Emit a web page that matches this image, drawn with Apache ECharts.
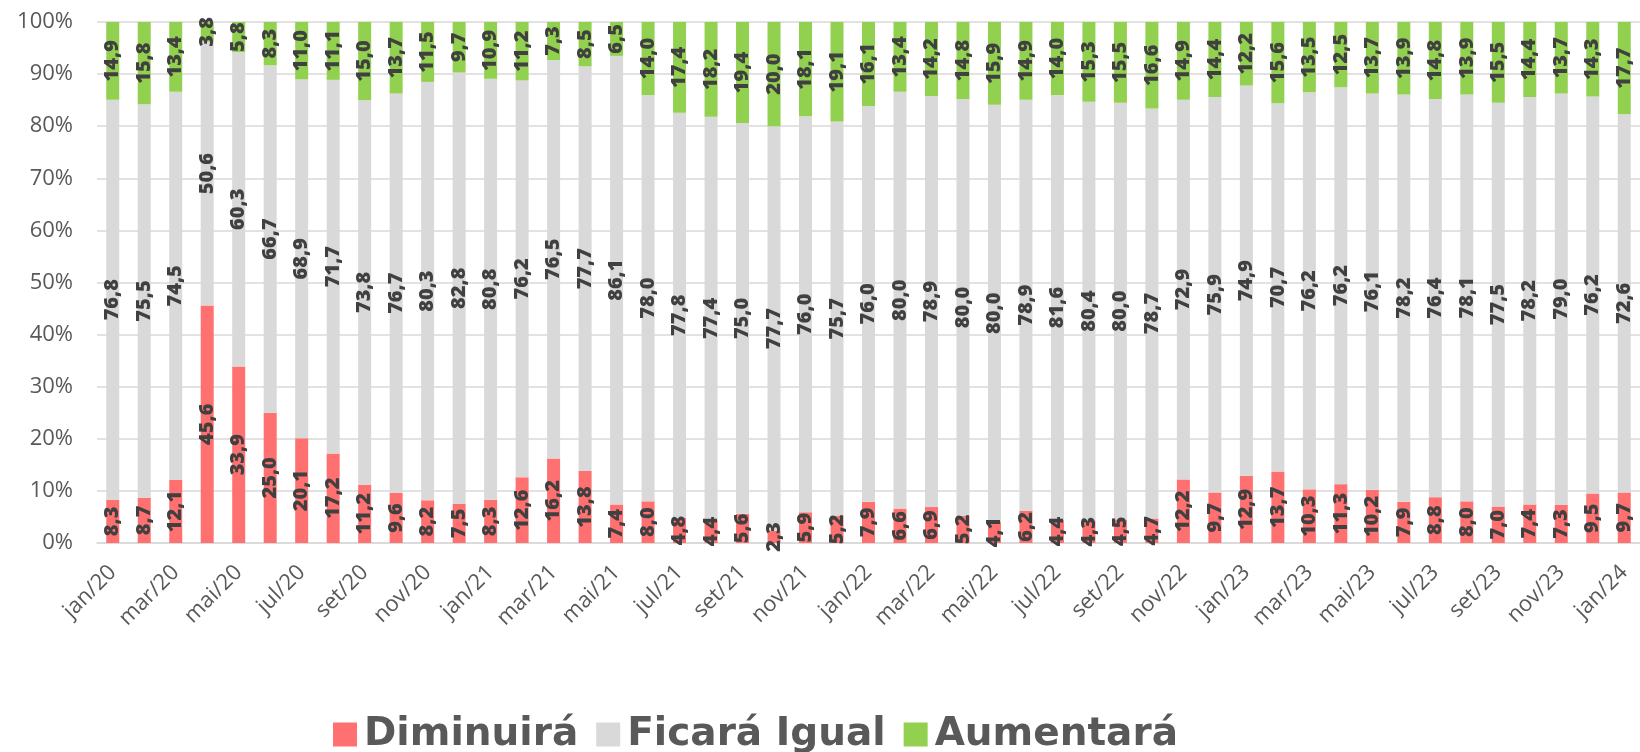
<!DOCTYPE html>
<html>
<head>
    <meta charset="UTF-8">
    <title>Expectativa</title>
    <script src="https://cdn.jsdelivr.net/npm/echarts@6/dist/echarts.min.js"></script>
    <style>
        html, body { margin: 0; padding: 0; background: #fff; }
        #main { width: 1640px; height: 752px; }
    </style>
</head>
<body>
<div id="main"></div>
<script type="text/javascript">
    var months = [
        'jan/20', 'fev/20', 'mar/20', 'abr/20', 'mai/20', 'jun/20', 'jul/20', 'ago/20', 'set/20', 'out/20', 'nov/20', 'dez/20',
        'jan/21', 'fev/21', 'mar/21', 'abr/21', 'mai/21', 'jun/21', 'jul/21', 'ago/21', 'set/21', 'out/21', 'nov/21', 'dez/21',
        'jan/22', 'fev/22', 'mar/22', 'abr/22', 'mai/22', 'jun/22', 'jul/22', 'ago/22', 'set/22', 'out/22', 'nov/22', 'dez/22',
        'jan/23', 'fev/23', 'mar/23', 'abr/23', 'mai/23', 'jun/23', 'jul/23', 'ago/23', 'set/23', 'out/23', 'nov/23', 'dez/23',
        'jan/24'
    ];
    var diminuira = [
        8.3, 8.7, 12.1, 45.6, 33.9, 25.0, 20.1, 17.2, 11.2, 9.6, 8.2, 7.5,
        8.3, 12.6, 16.2, 13.8, 7.4, 8.0, 4.8, 4.4, 5.6, 2.3, 5.9, 5.2,
        7.9, 6.6, 6.9, 5.2, 4.1, 6.2, 4.4, 4.3, 4.5, 4.7, 12.2, 9.7,
        12.9, 13.7, 10.3, 11.3, 10.2, 7.9, 8.8, 8.0, 7.0, 7.4, 7.3, 9.5,
        9.7
    ];
    var ficaraIgual = [
        76.8, 75.5, 74.5, 50.6, 60.3, 66.7, 68.9, 71.7, 73.8, 76.7, 80.3, 82.8,
        80.8, 76.2, 76.5, 77.7, 86.1, 78.0, 77.8, 77.4, 75.0, 77.7, 76.0, 75.7,
        76.0, 80.0, 78.9, 80.0, 80.0, 78.9, 81.6, 80.4, 80.0, 78.7, 72.9, 75.9,
        74.9, 70.7, 76.2, 76.2, 76.1, 78.2, 76.4, 78.1, 77.5, 78.2, 79.0, 76.2,
        72.6
    ];
    var aumentara = [
        14.9, 15.8, 13.4, 3.8, 5.8, 8.3, 11.0, 11.1, 15.0, 13.7, 11.5, 9.7,
        10.9, 11.2, 7.3, 8.5, 6.5, 14.0, 17.4, 18.2, 19.4, 20.0, 18.1, 19.1,
        16.1, 13.4, 14.2, 14.8, 15.9, 14.9, 14.0, 15.3, 15.5, 16.6, 14.9, 14.4,
        12.2, 15.6, 13.5, 12.5, 13.7, 13.9, 14.8, 13.9, 15.5, 14.4, 13.7, 14.3,
        17.7
    ];

    function fmt(p) {
        return p.value.toFixed(1).replace('.', ',');
    }

    function serie(name, data, color) {
        return {
            name: name,
            type: 'bar',
            stack: 'total',
            barWidth: 13,
            data: data,
            itemStyle: {color: color},
            label: {
                show: true,
                position: 'inside',
                rotate: 90,
                formatter: fmt,
                color: '#404040',
                fontFamily: 'Open Sans',
                fontWeight: 800,
                fontSize: 20,
                textBorderWidth: 0
            }
        };
    }

    var myChart = echarts.init(document.getElementById('main'));
    var option = {
        animation: false,
        grid: {
            left: 97,
            right: -9,
            top: 22,
            bottom: 209,
            containLabel: false
        },
        legend: {
            left: 328,
            top: 710,
            itemWidth: 24,
            itemHeight: 24,
            itemGap: 18,
            icon: 'rect',
            textStyle: {
                color: '#595959',
                fontFamily: 'DejaVu Sans',
                fontWeight: 'bold',
                fontSize: 39,
                padding: [0, 0, 0, 2]
            },
            data: ['Diminuirá', 'Ficará Igual', 'Aumentará']
        },
        xAxis: {
            type: 'category',
            data: months,
            axisLine: {lineStyle: {color: '#d9d9d9', width: 1.5}},
            axisTick: {show: false},
            axisLabel: {
                interval: 1,
                rotate: 45,
                margin: 26,
                color: '#595959',
                fontFamily: 'Open Sans',
                fontSize: 22
            }
        },
        yAxis: {
            type: 'value',
            min: 0,
            max: 100,
            interval: 10,
            axisLine: {show: false},
            axisTick: {show: false},
            splitLine: {lineStyle: {color: '#d9d9d9', width: 1.5}},
            axisLabel: {
                formatter: '{value}%',
                margin: 24,
                color: '#595959',
                fontFamily: 'Open Sans',
                fontSize: 22
            }
        },
        series: [
            serie('Diminuirá', diminuira, '#ff7171'),
            serie('Ficará Igual', ficaraIgual, '#d9d9d9'),
            serie('Aumentará', aumentara, '#92d050')
        ]
    };
    myChart.setOption(option);
</script>
</body>
</html>
